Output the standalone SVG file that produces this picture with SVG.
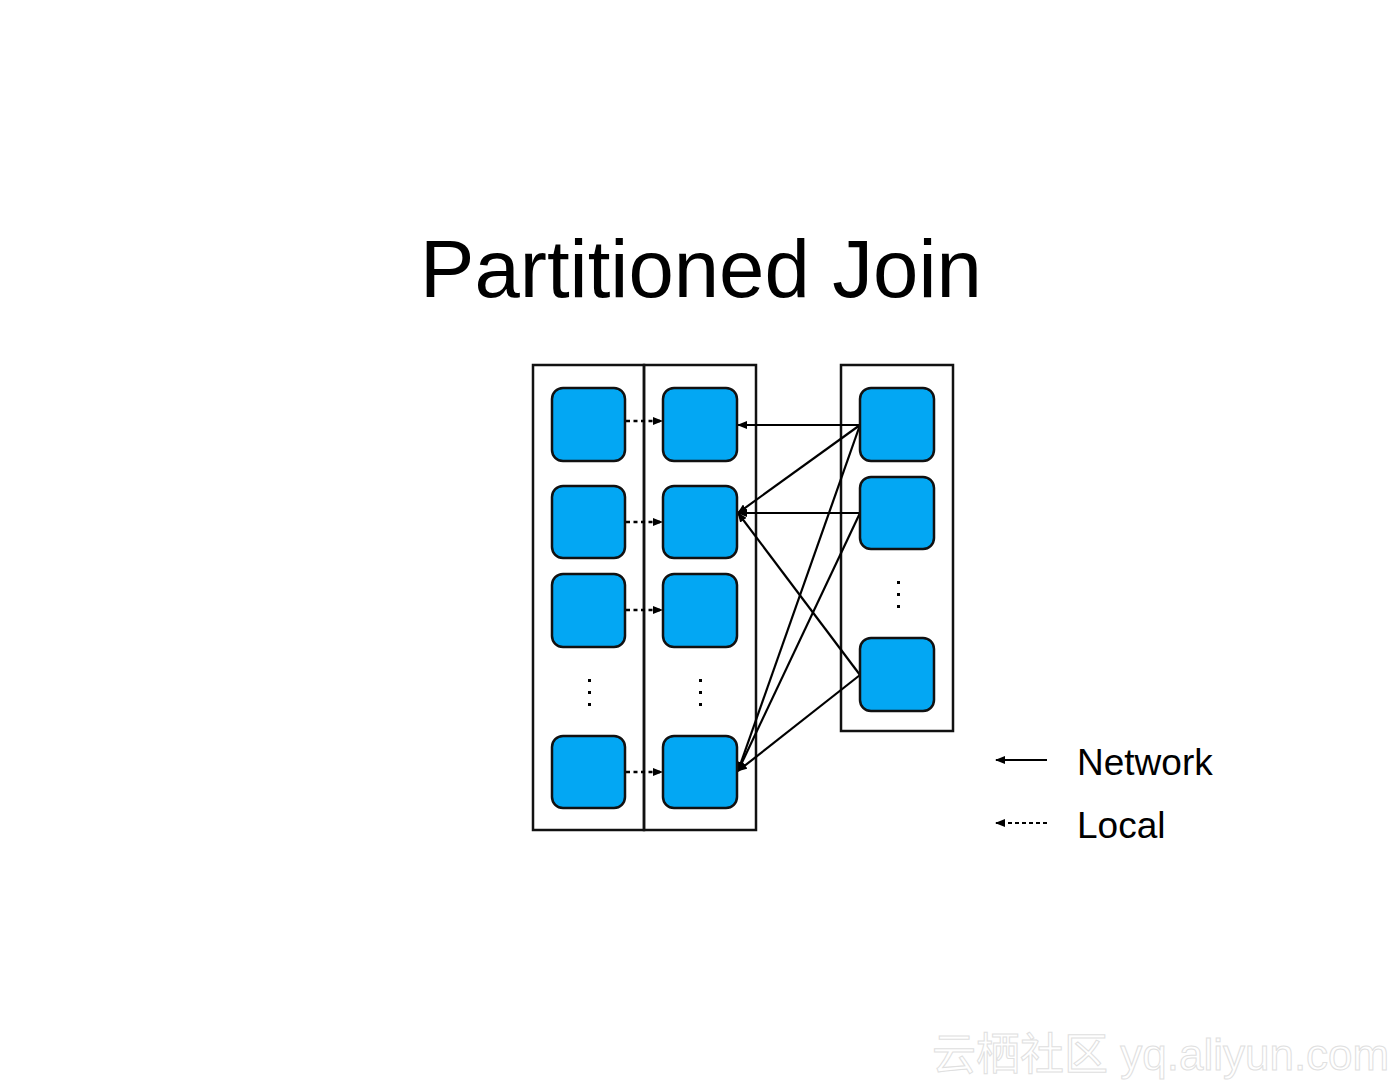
<svg xmlns="http://www.w3.org/2000/svg" width="1400" height="1082" viewBox="0 0 1400 1082">
<defs>
<style>
.box{fill:#03a7f3;stroke:#111;stroke-width:2.5}
.frame{fill:none;stroke:#111;stroke-width:2.5}
.net{stroke:#000;stroke-width:2.2;fill:none}
.loc{stroke:#000;stroke-width:2.5;fill:none;stroke-dasharray:4 3.5}
.dot{fill:#000}
.t{font-family:"Liberation Sans",Arial,sans-serif;fill:#000}
.wm{font-family:"Liberation Sans","Noto Sans CJK SC",sans-serif;font-size:44px;fill:#fff;stroke:#e0e0e0;stroke-width:1}
</style>
<marker id="ah" markerWidth="10" markerHeight="8" refX="9" refY="4" orient="auto" markerUnits="userSpaceOnUse">
<path d="M0,0 L10,4 L0,8 Z" fill="#000"/>
</marker>
</defs>
<rect width="1400" height="1082" fill="#fff"/>
<text class="t" x="701" y="297" font-size="81.5" text-anchor="middle">Partitioned Join</text>

<g id="frames">
<rect class="frame" x="533" y="365" width="111" height="465"/>
<rect class="frame" x="644" y="365" width="112" height="465"/>
<rect class="frame" x="841" y="365" width="112" height="366"/>
</g>

<g id="connectors">
<line class="loc" x1="626" y1="421" x2="662" y2="421" marker-end="url(#ah)"/>
<line class="loc" x1="626" y1="522" x2="662" y2="522" marker-end="url(#ah)"/>
<line class="loc" x1="626" y1="610" x2="662" y2="610" marker-end="url(#ah)"/>
<line class="loc" x1="626" y1="772" x2="662" y2="772" marker-end="url(#ah)"/>
<line class="net" x1="860" y1="425" x2="738" y2="425" marker-end="url(#ah)"/>
<line class="net" x1="860" y1="425" x2="738" y2="513" marker-end="url(#ah)"/>
<line class="net" x1="860" y1="425" x2="738" y2="771" marker-end="url(#ah)"/>
<line class="net" x1="860" y1="513" x2="738" y2="513" marker-end="url(#ah)"/>
<line class="net" x1="860" y1="513" x2="738" y2="771" marker-end="url(#ah)"/>
<line class="net" x1="860" y1="675" x2="738" y2="513" marker-end="url(#ah)"/>
<line class="net" x1="860" y1="675" x2="738" y2="771" marker-end="url(#ah)"/>
</g>

<g id="left1"><rect class="box" x="552" y="388" width="73" height="73" rx="11"/></g>
<g id="left2"><rect class="box" x="552" y="486" width="73" height="72" rx="11"/></g>
<g id="left3"><rect class="box" x="552" y="574" width="73" height="73" rx="11"/></g>
<g id="left4"><rect class="box" x="552" y="736" width="73" height="72" rx="11"/></g>
<g id="mid1"><rect class="box" x="663" y="388" width="74" height="73" rx="11"/></g>
<g id="mid2"><rect class="box" x="663" y="486" width="74" height="72" rx="11"/></g>
<g id="mid3"><rect class="box" x="663" y="574" width="74" height="73" rx="11"/></g>
<g id="mid4"><rect class="box" x="663" y="736" width="74" height="72" rx="11"/></g>
<g id="right1"><rect class="box" x="860" y="388" width="74" height="73" rx="11"/></g>
<g id="right2"><rect class="box" x="860" y="477" width="74" height="72" rx="11"/></g>
<g id="right3"><rect class="box" x="860" y="638" width="74" height="73" rx="11"/></g>

<g id="ellipses">
<rect class="dot" x="588" y="679" width="3" height="3"/>
<rect class="dot" x="588" y="691" width="3" height="3"/>
<rect class="dot" x="588" y="703" width="3" height="3"/>
<rect class="dot" x="699" y="679" width="3" height="3"/>
<rect class="dot" x="699" y="691" width="3" height="3"/>
<rect class="dot" x="699" y="703" width="3" height="3"/>
<rect class="dot" x="897" y="581" width="3" height="3"/>
<rect class="dot" x="897" y="593" width="3" height="3"/>
<rect class="dot" x="897" y="605" width="3" height="3"/>
</g>

<g id="legend">
<line class="net" x1="1047" y1="760" x2="996" y2="760" marker-end="url(#ah)"/>
<line stroke="#000" stroke-width="2" stroke-dasharray="4 3" x1="1047" y1="823" x2="996" y2="823" marker-end="url(#ah)"/>
<text class="t" x="1077" y="775" font-size="37">Network</text>
<text class="t" x="1077" y="838" font-size="37">Local</text>
</g>

<text class="wm" x="932" y="1070">云栖社区 yq.aliyun.com</text>
</svg>
